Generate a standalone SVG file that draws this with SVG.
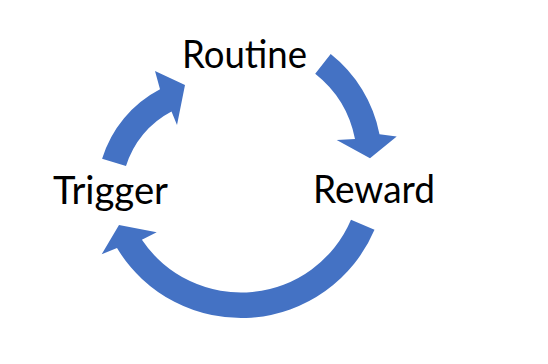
<svg xmlns="http://www.w3.org/2000/svg" width="548" height="364" viewBox="0 0 548 364">
<style>
.lbl{font-family:Lato,"Open Sans","Liberation Sans",sans-serif;font-size:38px;fill:#000}
.arr{fill:#4472C4;stroke:none}
</style>
<rect width="548" height="364" fill="#fff"/>
<g id="connectors">
<path id="routine-to-reward" class="arr" d="M330.7,54.1 A135,135 0 0 1 379.5,134.2 L396.7,136.5 L370,158.3 L336.7,140 L355,139 A110,110 0 0 0 315.2,73.7 Z"/>
<path id="reward-to-trigger" class="arr" d="M374.5,229.7 A145,145 0 0 1 117,248.1 L101.7,254.3 L119,225 L156.7,232.3 L141.9,239.8 A119.5,119.5 0 0 0 351,219.7 Z"/>
<path id="trigger-to-routine" class="arr" d="M102.1,158.8 A117,117 0 0 1 160,89.2 L155,71 L185,85 L177,125 L171.5,111.4 A92,92 0 0 0 126,166.1 Z"/>
</g>
<g id="routine"><text class="lbl" x="182" y="68" textLength="125" lengthAdjust="spacingAndGlyphs">Routine</text></g>
<g id="reward"><text class="lbl" x="313" y="203" textLength="122" lengthAdjust="spacingAndGlyphs">Reward</text></g>
<g id="trigger"><text class="lbl" x="53" y="204" textLength="115" lengthAdjust="spacingAndGlyphs">Trigger</text></g>
</svg>
